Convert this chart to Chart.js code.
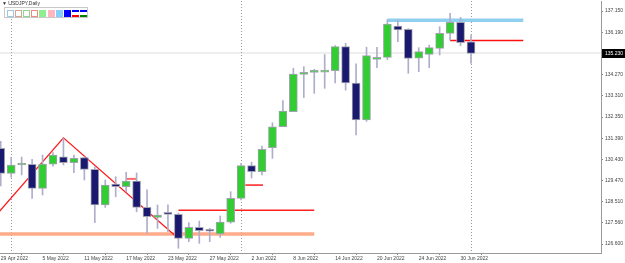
<!DOCTYPE html>
<html><head><meta charset="utf-8">
<script src="https://cdn.jsdelivr.net/npm/chart.js@4.4.1/dist/chart.umd.min.js"></script>
<style>
html,body{margin:0;padding:0;background:#fff;overflow:hidden}
#wrap{position:relative;width:625px;height:263px}
canvas{display:block}
#hdr{position:absolute;left:2px;top:0px;font:5px "Liberation Sans",Arial,sans-serif;color:#333;line-height:7px;white-space:nowrap}
#tb{position:absolute;left:4px;top:7px;width:84px;height:11px;border:1px solid #c8c8c8;background:#fff;box-sizing:border-box}
.sw{position:absolute;top:1.5px;width:7px;height:7px;box-sizing:border-box}
</style></head><body>
<div id="wrap"><canvas id="c" width="625" height="263"></canvas>
<div id="hdr">▼ USDJPY,Daily</div>
<div id="tb">
 <div class="sw" style="left:1.5px;border:1px solid #9cc8e6"></div>
 <div class="sw" style="left:9.7px;border:1px solid #d6a48e"></div>
 <div class="sw" style="left:17.9px;border:1px solid #8ed68e"></div>
 <div class="sw" style="left:26.1px;border:1px solid #f08888"></div>
 <div class="sw" style="left:34.3px;background:#90ee90"></div>
 <div class="sw" style="left:42.5px;background:#ffb6c1"></div>
 <div class="sw" style="left:50.7px;background:#87cefa"></div>
 <div class="sw" style="left:58.9px;background:#0000ff"></div>
 <div class="sw" style="left:67.1px;border-top:2px solid #0000ff;border-bottom:2px solid #ff0000"></div>
 <div class="sw" style="left:75.3px;border-top:2px solid #0000ff;border-bottom:2px solid #008000"></div>
</div></div>
<script>
// ---- data ----
const dates = ["29 Apr 2022","2 May 2022","3 May 2022","4 May 2022","5 May 2022","6 May 2022","9 May 2022","10 May 2022","11 May 2022","12 May 2022","13 May 2022","16 May 2022","17 May 2022","18 May 2022","19 May 2022","20 May 2022","23 May 2022","24 May 2022","25 May 2022","26 May 2022","27 May 2022","30 May 2022","31 May 2022","1 Jun 2022","2 Jun 2022","3 Jun 2022","6 Jun 2022","7 Jun 2022","8 Jun 2022","9 Jun 2022","10 Jun 2022","13 Jun 2022","14 Jun 2022","15 Jun 2022","16 Jun 2022","17 Jun 2022","20 Jun 2022","21 Jun 2022","22 Jun 2022","23 Jun 2022","24 Jun 2022","27 Jun 2022","28 Jun 2022","29 Jun 2022","30 Jun 2022","1 Jul 2022"];
const opens  = [130.93,129.80,130.18,130.21,129.12,130.22,130.55,130.28,130.51,129.98,128.37,129.32,129.20,129.45,128.26,127.81,127.97,127.95,126.86,127.36,127.21,127.06,127.59,128.67,130.15,129.88,130.96,131.91,132.59,134.28,134.37,134.38,134.45,135.54,133.89,132.22,134.96,135.05,136.47,136.32,135.01,135.19,135.46,136.14,136.64,135.76];
const highs  = [131.25,130.53,130.54,130.44,130.63,130.74,131.39,130.63,130.55,130.10,129.50,129.65,129.85,129.82,129.05,128.37,128.37,128.00,127.57,127.64,127.31,127.87,128.97,130.25,130.31,131.04,132.09,133.09,134.56,134.63,134.51,135.18,135.58,135.69,134.76,135.51,135.50,136.76,136.74,136.35,135.49,135.61,136.44,137.05,136.86,136.06];
const lows   = [129.23,129.62,129.73,128.67,128.82,130.13,130.18,129.83,129.50,127.57,128.26,128.74,128.97,128.06,127.09,127.31,127.16,126.41,126.71,126.63,126.71,126.90,127.54,128.60,129.59,129.73,130.48,131.91,132.59,133.23,133.42,133.65,133.89,133.57,131.54,132.15,134.58,134.95,135.76,134.33,134.40,134.58,135.16,135.84,135.58,134.78];
const closes = [129.80,130.18,130.24,129.12,130.22,130.63,130.28,130.48,129.98,128.37,129.27,129.20,129.45,128.26,127.84,127.91,127.94,126.86,127.36,127.21,127.18,127.59,128.67,130.15,129.88,130.89,131.91,132.62,134.30,134.37,134.45,134.47,135.54,133.89,132.22,135.13,135.03,136.56,136.29,135.00,135.31,135.49,136.14,136.64,135.72,135.23];
const xLabelIndex = [0,4,8,12,16,20,24,28,32,36,40,44];
const yTickValues = [137.150,136.190,135.230,134.270,133.310,132.350,131.390,130.430,129.470,128.510,127.560,126.600];
const separatorIndex = [1,23,45];
const currentPrice = 135.230;
const zigzagIndex = [-1,6,17];
const zigzagPrice = [127.60,131.41,126.85];
const levelPrice = [136.73,135.82,128.13,129.27,129.55,127.06];
const levelStart = [37,43,17,23.4,12,-1];
const levelEnd   = [50,50,30,25.1,13,30];

// ---- styles ----
const levelColor = ['#8fd0f0','#ff1010','#ff2020','#ff2020','#ff6a6a','#ffab8a'];
const levelWidth = [3.5,1.5,1.5,1.5,2,3.5];
const BULL = '#32cd32', BEAR = '#191970';
const FONT = {family:'"Liberation Sans", Arial, sans-serif', size:5};

const datasets = [];
datasets.push({
  type:'bar', label:'bodies', order:1, grouped:false,
  data: dates.map((d,i)=>({x:i, y:[opens[i], closes[i]]})),
  backgroundColor: dates.map((d,i)=> closes[i] >= opens[i] ? BULL : BEAR),
  borderColor:'#a2a2b0', borderWidth:1, borderSkipped:false,
  barThickness:8, minBarLength:2
});
datasets.push({
  type:'bar', label:'wicks', order:2, grouped:false,
  data: dates.map((d,i)=>({x:i, y:[lows[i], highs[i]]})),
  backgroundColor:'#aeaecc', borderWidth:0, barThickness:1
});
datasets.push({
  type:'line', label:'zigzag', order:3,
  data: zigzagIndex.map((v,i)=>({x:v, y:zigzagPrice[i]})),
  borderColor:'#ff1a1a', borderWidth:1.3, pointRadius:0, tension:0
});
levelPrice.forEach((p,k)=>{
  datasets.push({
    type:'line', label:'level'+k, order:4,
    data:[{x:levelStart[k], y:p},{x:levelEnd[k], y:p}],
    borderColor:levelColor[k], borderWidth:levelWidth[k], pointRadius:0
  });
});

const overlay = {
  id:'overlay',
  beforeDatasetsDraw(chart){
    const {ctx, chartArea:a, scales:{x,y}} = chart;
    ctx.save();
    ctx.beginPath(); ctx.rect(a.left,a.top,a.right-a.left,a.bottom-a.top); ctx.clip();
    // bid line
    const yb = Math.round(y.getPixelForValue(currentPrice));
    ctx.strokeStyle='#eeeeee'; ctx.lineWidth=2;
    ctx.beginPath(); ctx.moveTo(a.left,yb); ctx.lineTo(a.right,yb); ctx.stroke();
    // period separators
    ctx.strokeStyle='#9a9a9a'; ctx.lineWidth=1; ctx.setLineDash([1,2]);
    separatorIndex.forEach(i=>{
      const xp = Math.round(x.getPixelForValue(i))+0.5;
      ctx.beginPath(); ctx.moveTo(xp,a.top); ctx.lineTo(xp,a.bottom); ctx.stroke();
    });
    ctx.restore();
  },
  afterDraw(chart){
    const {ctx, chartArea:a, scales:{y}} = chart;
    const yp = y.getPixelForValue(currentPrice);
    ctx.save();
    ctx.fillStyle='#000';
    ctx.fillRect(a.right+1, Math.round(yp-4.5), 23, 9);
    ctx.fillStyle='#fff';
    ctx.font = '5px "Liberation Sans", Arial, sans-serif';
    ctx.textBaseline='middle'; ctx.textAlign='left';
    ctx.fillText(currentPrice.toFixed(3), a.right+4, Math.round(yp)+0.5);
    ctx.restore();
  }
};

new Chart(document.getElementById('c'), {
  type:'bar',
  data:{datasets},
  plugins:[overlay],
  options:{
    responsive:false, animation:false, devicePixelRatio:1,
    layout:{padding:{top:1,left:0,right:0,bottom:0}},
    plugins:{legend:{display:false}, tooltip:{enabled:false}},
    scales:{
      x:{
        type:'linear', offset:false,
        min:-0.0718, max:57.44,
        grid:{drawOnChartArea:false, drawTicks:true, tickLength:2, color:'#8a8a8a'},
        border:{display:true, color:'#9a9a9a'},
        ticks:{autoSkip:false, maxRotation:0, align:'start', padding:1, color:'#444', font:FONT,
               callback:(v)=> dates[v] ?? ''},
        afterBuildTicks:(s)=>{ s.ticks = xLabelIndex.map(v=>({value:v})); },
        afterFit:(s)=>{ s.height = 10; s.paddingLeft=0; s.paddingRight=0; s.paddingTop=0; s.paddingBottom=0; }
      },
      y:{
        type:'linear', position:'right',
        min:126.195, max:137.603,
        grid:{drawOnChartArea:false, drawTicks:true, tickLength:2, color:'#8a8a8a'},
        border:{display:true, color:'#9a9a9a'},
        ticks:{autoSkip:false, padding:2, color:'#444', font:FONT,
               callback:(v)=> Number(v).toFixed(3)},
        afterBuildTicks:(s)=>{ s.ticks = yTickValues.map(v=>({value:v})); },
        afterFit:(s)=>{ s.width = 24; s.paddingLeft=0; s.paddingRight=0; s.paddingTop=0; s.paddingBottom=0; }
      }
    }
  }
});
</script>
</body></html>
